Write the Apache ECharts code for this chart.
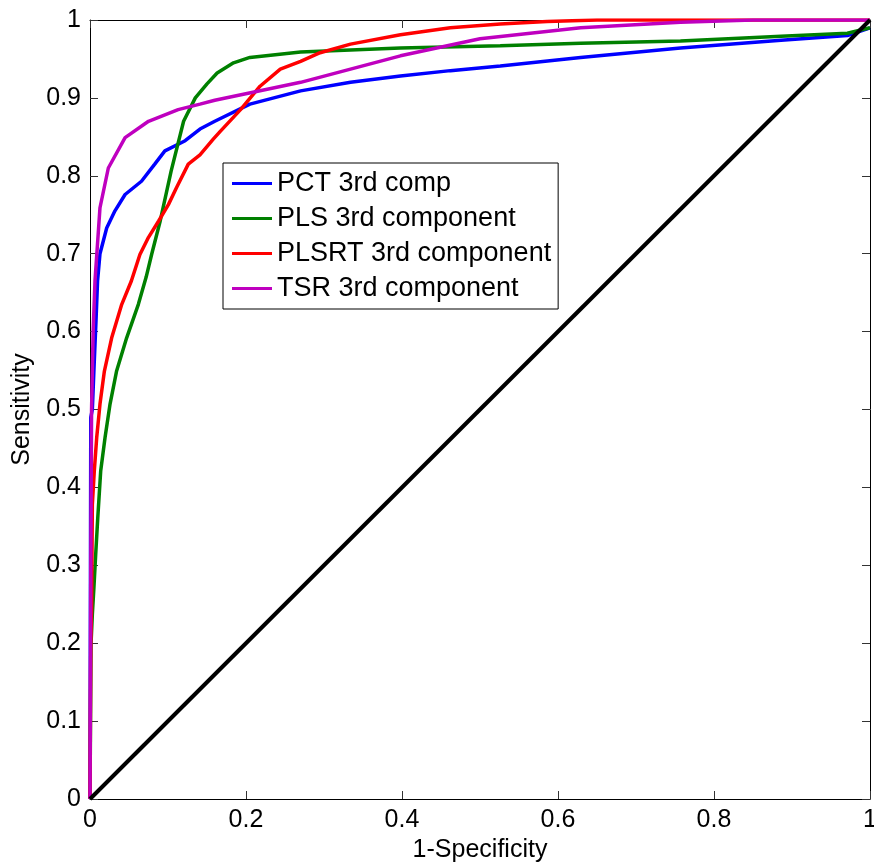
<!DOCTYPE html>
<html>
<head>
<meta charset="utf-8">
<script src="https://cdn.jsdelivr.net/npm/echarts@6/dist/echarts.min.js"></script>
<style>
    html, body { margin: 0; padding: 0; background: #fff; }
    #chart_1 { width: 874px; height: 863px; }
</style>
</head>
<body>
<div id="chart_1"></div>
<script>
//*************************************************************************************************data
var series_names = ['PCT 3rd comp', 'PLS 3rd component', 'PLSRT 3rd component', 'TSR 3rd component'];
var series_colors = ['#0000ff', '#008000', '#ff0000', '#bf00bf'];

// [1-specificity, sensitivity]
var pct_data = [[0, 0], [0.001, 0.49], [0.003, 0.50], [0.0055, 0.562], [0.0077, 0.614], [0.0097, 0.665],
    [0.0128, 0.70], [0.0214, 0.733], [0.032, 0.755], [0.045, 0.776], [0.066, 0.793], [0.083, 0.815],
    [0.096, 0.832], [0.122, 0.845], [0.141, 0.860], [0.160, 0.870], [0.205, 0.892], [0.270, 0.909],
    [0.334, 0.920], [0.398, 0.928], [0.462, 0.935], [0.526, 0.941], [0.629, 0.952], [0.757, 0.964],
    [0.886, 0.974], [0.971, 0.980], [1, 0.99]];

var pls_data = [[0, 0], [0.0013, 0.199], [0.003, 0.237], [0.005, 0.271], [0.0073, 0.314], [0.0099, 0.36],
    [0.0137, 0.421], [0.0193, 0.464], [0.0257, 0.507], [0.034, 0.549], [0.047, 0.592], [0.062, 0.635],
    [0.072, 0.67], [0.079, 0.699], [0.090, 0.742], [0.104, 0.806], [0.120, 0.870], [0.135, 0.900],
    [0.150, 0.918], [0.163, 0.932], [0.184, 0.945], [0.205, 0.952], [0.270, 0.959], [0.398, 0.964],
    [0.526, 0.967], [0.629, 0.970], [0.757, 0.973], [0.886, 0.979], [0.971, 0.983], [1, 0.99]];

var plsrt_data = [[0, 0], [0.001, 0.20], [0.002, 0.245], [0.003, 0.378], [0.0055, 0.421], [0.0086, 0.464],
    [0.0128, 0.507], [0.0184, 0.549], [0.0278, 0.592], [0.0407, 0.635], [0.053, 0.665], [0.064, 0.699],
    [0.075, 0.721], [0.088, 0.742], [0.1005, 0.763], [0.111, 0.785], [0.126, 0.815], [0.141, 0.827],
    [0.158, 0.847], [0.167, 0.857], [0.193, 0.885], [0.218, 0.915], [0.244, 0.937], [0.270, 0.947],
    [0.295, 0.958], [0.334, 0.969], [0.398, 0.981], [0.462, 0.990], [0.526, 0.995], [0.586, 0.998],
    [0.65, 1], [1, 1]];

var tsr_data = [[0, 0], [0.001, 0.3], [0.002, 0.5], [0.004, 0.6], [0.0064, 0.665], [0.0128, 0.759],
    [0.0235, 0.810], [0.045, 0.849], [0.075, 0.870], [0.113, 0.885], [0.141, 0.892], [0.160, 0.897],
    [0.270, 0.920], [0.398, 0.954], [0.50, 0.976], [0.629, 0.990], [0.757, 0.997], [0.85, 1], [1, 1]];

var chance_data = [[0, 0], [1, 1]];

var x_ticks = [0, 0.2, 0.4, 0.6, 0.8, 1];
var y_ticks = [0, 0.1, 0.2, 0.3, 0.4, 0.5, 0.6, 0.7, 0.8, 0.9, 1];

//*************************************************************************************************chart
var font = "'Liberation Sans', Arial, sans-serif";

function tick_label(v) {
    return String(Math.round(v * 10) / 10);
}

function make_axis(ticks, position, show_label) {
    return {
        type: 'value',
        position: position,
        min: ticks[0],
        max: ticks[ticks.length - 1],
        interval: ticks[1] - ticks[0],
        axisLine: { show: true, onZero: false, lineStyle: { color: '#000', width: 1 } },
        axisTick: { show: true, inside: true, length: 8, lineStyle: { color: '#333', width: 1 } },
        axisLabel: {
            show: show_label,
            color: '#000',
            fontFamily: font,
            fontSize: 25,
            margin: 9,
            formatter: tick_label,
        },
        splitLine: { show: false },
    };
}

var x_axis = make_axis(x_ticks, 'bottom', true);
x_axis.name = '1-Specificity';
x_axis.nameLocation = 'middle';
x_axis.nameGap = 36;
x_axis.nameTextStyle = { color: '#000', fontFamily: font, fontSize: 25 };

var y_axis = make_axis(y_ticks, 'left', true);
y_axis.name = 'Sensitivity';
y_axis.nameLocation = 'middle';
y_axis.nameGap = 55;
y_axis.nameTextStyle = { color: '#000', fontFamily: font, fontSize: 25 };

var all_data = [pct_data, pls_data, plsrt_data, tsr_data];
var series = [];
for (let i = 0; i < all_data.length; i++) {
    series.push({
        name: series_names[i],
        type: 'line',
        data: all_data[i],
        showSymbol: false,
        symbol: 'none',
        lineStyle: { color: series_colors[i], width: 3.5 },
        itemStyle: { color: series_colors[i] },
        animation: false,
    });
}
series.push({
    name: 'chance',
    type: 'line',
    data: chance_data,
    showSymbol: false,
    symbol: 'none',
    lineStyle: { color: '#000', width: 4 },
    animation: false,
});

var chart_1 = echarts.init(document.getElementById('chart_1'));
var option_1 = {
    backgroundColor: '#fff',
    animation: false,
    grid: { left: 90, right: 4, top: 20, bottom: 64, containLabel: false, outerBoundsMode: 'none' },
    legend: {
        data: series_names,
        orient: 'vertical',
        left: 223,
        top: 163,
        icon: 'rect',
        itemWidth: 40,
        itemHeight: 3,
        itemGap: 8,
        padding: [7, 7, 7, 9],
        backgroundColor: '#fff',
        borderColor: '#000',
        borderWidth: 1,
        borderRadius: 0,
        selectedMode: false,
        textStyle: { color: '#000', fontFamily: font, fontSize: 27, lineHeight: 25 },
    },
    xAxis: [x_axis, make_axis(x_ticks, 'top', false)],
    yAxis: [y_axis, make_axis(y_ticks, 'right', false)],
    series: series,
};
chart_1.setOption(option_1);
</script>
</body>
</html>
